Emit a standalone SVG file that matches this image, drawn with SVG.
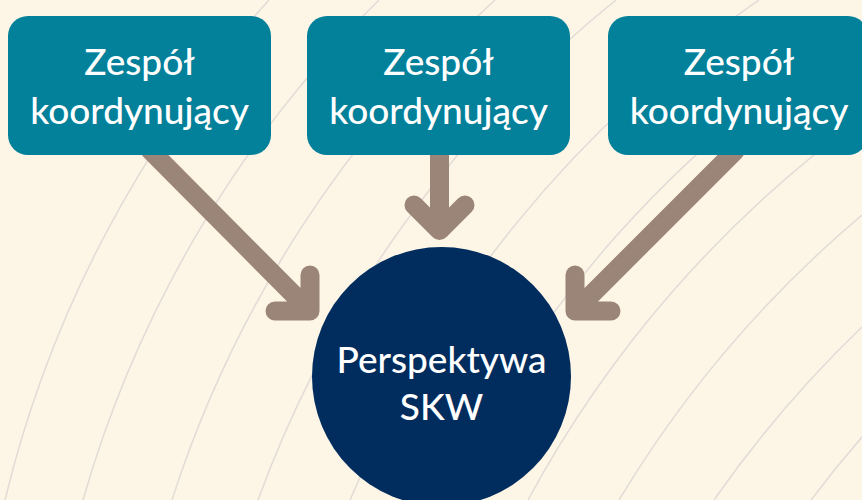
<svg xmlns="http://www.w3.org/2000/svg" width="862" height="500" viewBox="0 0 862 500">
  <defs>
    <style>
      .bg { fill: #FDF5E6; }
      .arc { fill: none; stroke: #E2DBD6; stroke-width: 1.5; }
      .box { fill: #03809A; }
      .hub { fill: #002D5E; }
      .conn { fill: none; stroke: #9B8578; stroke-width: 19; stroke-linecap: round; stroke-linejoin: round; }
      .lbl { font-family: Lato, "Open Sans", "Liberation Sans", sans-serif; font-size: 37px; font-weight: 500; fill: #FFFFFF; text-anchor: middle; }
    </style>
  </defs>
  <rect class="bg" x="0" y="0" width="862" height="500"/>
  <g id="background-arcs">
    <path class="arc" d="M5,500 A1148,1148 0 0 1 269,0"/>
    <path class="arc" d="M83,500 A1148,1148 0 0 1 379,0"/>
    <path class="arc" d="M172,500 A1148,1148 0 0 1 495,0"/>
    <path class="arc" d="M258,500 A1148,1148 0 0 1 616,0"/>
    <path class="arc" d="M350,500 A1148,1148 0 0 1 759,0"/>
    <path class="arc" d="M440,500 A1148,1148 0 0 1 862,28"/>
    <path class="arc" d="M528,500 A1148,1148 0 0 1 862,118"/>
    <path class="arc" d="M619,500 A1148,1148 0 0 1 862,215"/>
    <path class="arc" d="M714,500 A1148,1148 0 0 1 862,327"/>
    <path class="arc" d="M811,500 A1148,1148 0 0 1 862,437"/>
  </g>
  <g id="connectors">
    <path class="conn" d="M150,150 L310,311 M310,275 L310,311 L275,311"/>
    <path class="conn" d="M439.5,150 L439.5,230.5 M414,205 L439.5,230.5 L465,205"/>
    <path class="conn" d="M735,151 L575,311 M575,275 L575,311 L611,311"/>
  </g>
  <g id="node-zespol-1">
    <rect class="box" x="8" y="16" width="263" height="139" rx="20"/>
    <text class="lbl" x="139.5" y="75">Zespół</text>
    <text class="lbl" x="139.5" y="124">koordynujący</text>
  </g>
  <g id="node-zespol-2">
    <rect class="box" x="307" y="16" width="263" height="139" rx="20"/>
    <text class="lbl" x="438.5" y="75">Zespół</text>
    <text class="lbl" x="438.5" y="124">koordynujący</text>
  </g>
  <g id="node-zespol-3">
    <rect class="box" x="608" y="16" width="260" height="139" rx="20"/>
    <text class="lbl" x="739" y="75">Zespół</text>
    <text class="lbl" x="739" y="124">koordynujący</text>
  </g>
  <g id="node-perspektywa">
    <circle class="hub" cx="441.5" cy="376.5" r="129.5"/>
    <text class="lbl" x="441.5" y="373">Perspektywa</text>
    <text class="lbl" x="441.5" y="420">SKW</text>
  </g>
</svg>
